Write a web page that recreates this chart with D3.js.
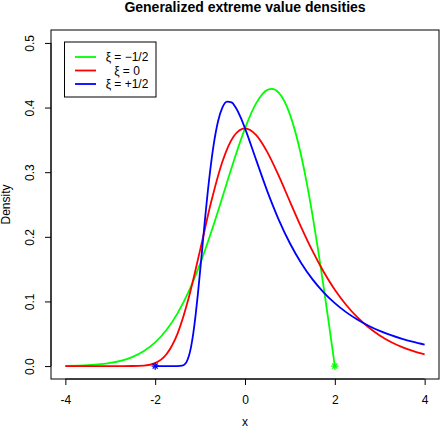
<!DOCTYPE html>
<html>
<head>
<meta charset="utf-8">
<script src="https://cdn.jsdelivr.net/npm/d3@7"></script>
<style>
  body { margin: 0; background: #fff; }
  svg { display: block; font-family: "Liberation Sans", Arial, sans-serif; }
</style>
</head>
<body>
<svg id="chart"></svg>
<script>
const width = 441, height = 428;

// values
const xTicks = [-4, -2, 0, 2, 4];
const yTicks = [0.0, 0.1, 0.2, 0.3, 0.4, 0.5];

const gumbelX = [-4, -3.5, -3, -2.75, -2.5, -2.25, -2, -1.75, -1.5, -1.25, -1, -0.75, -0.5, -0.25, 0,
  0.25, 0.5, 0.75, 1, 1.25, 1.5, 1.75, 2, 2.25, 2.5, 2.75, 3, 3.25, 3.5, 3.75, 4];
const gumbelY = [0, 0, 0, 0, 0.0001, 0.0007, 0.0046, 0.0182, 0.0507, 0.1065, 0.1794, 0.2549, 0.317, 0.3556, 0.3679,
  0.3574, 0.3307, 0.2945, 0.2546, 0.2151, 0.1785, 0.146, 0.1182, 0.0949, 0.0756, 0.06, 0.0474, 0.0373, 0.0293, 0.023, 0.018];

const negX = [-4, -3.5, -3, -2.75, -2.5, -2.25, -2, -1.75, -1.5, -1.25, -1, -0.75, -0.5, -0.25, 0,
  0.25, 0.5, 0.6, 0.75, 1, 1.25, 1.375, 1.5, 1.625, 1.75, 1.875, 2];
const negY = [0.0004, 0.0014, 0.0048, 0.0084, 0.0143, 0.0233, 0.0366, 0.0557, 0.0819, 0.1159, 0.1581, 0.2077, 0.262, 0.3174, 0.3679,
  0.4069, 0.4274, 0.4288, 0.423, 0.3894, 0.3258, 0.2834, 0.2348, 0.181, 0.1231, 0.0623, 0];

const posX = [-2, -1.75, -1.5, -1.4, -1.35, -1.3, -1.25, -1.2, -1.15, -1.1, -1.05, -1, -0.95, -0.9, -0.8, -0.7, -0.6, -0.5, -0.4, -0.3, -0.2, -0.1, 0,
  0.25, 0.5, 0.75, 1, 1.25, 1.5, 1.75, 2, 2.25, 2.5, 2.75, 3, 3.25, 3.5, 3.75, 4];
const posY = [0, 0, 0, 0.0006, 0.0023, 0.0066, 0.0155, 0.0302, 0.0514, 0.0787, 0.111, 0.1465, 0.1836, 0.2205, 0.2879, 0.3415, 0.3787, 0.4006, 0.4093, 0.4081, 0.3992, 0.3851, 0.3679,
  0.3187, 0.27, 0.2267, 0.19, 0.1596, 0.1346, 0.1142, 0.0974, 0.0835, 0.0721, 0.0625, 0.0545, 0.0478, 0.0421, 0.0373, 0.0331];

const seriesNames = ["ξ = −1/2", "ξ = 0", "ξ = +1/2"];
const seriesColors = ["#00ff00", "#ff0000", "#0000ff"];
const endpointX = [2, -2];
const endpointColors = ["#00ff00", "#0000ff"];

const plot = { left: 51, right: 439, top: 30, bottom: 379 };

const svg = d3.select("#chart")
    .attr("width", width)
    .attr("height", height);

const x = d3.scaleLinear().domain([-4.32, 4.32]).range([plot.left, plot.right]);
const y = d3.scaleLinear().domain([-0.02, 0.52]).range([plot.bottom, plot.top]);

// title
svg.append("text")
    .attr("x", 245)
    .attr("y", 12)
    .attr("text-anchor", "middle")
    .attr("font-size", 14)
    .attr("font-weight", "bold")
    .text("Generalized extreme value densities");

// axes
const xAxis = svg.append("g")
    .attr("transform", `translate(0,${plot.bottom})`)
    .call(d3.axisBottom(x).tickValues(xTicks).tickSize(6).tickPadding(10).tickFormat(d => String(d)));
xAxis.select(".domain").attr("d", `M${x(-4)},0H${x(4)}`);

const yAxis = svg.append("g")
    .attr("transform", `translate(${plot.left},0)`)
    .call(d3.axisLeft(y).tickValues(yTicks).tickSize(6).tickFormat(d3.format(".1f")));
yAxis.select(".domain").attr("d", `M0,${y(0)}V${y(0.5)}`);
yAxis.selectAll(".tick text")
    .attr("x", 0).attr("dy", 0)
    .attr("text-anchor", "middle")
    .attr("transform", "translate(-17,0) rotate(-90)");

svg.selectAll(".tick text").attr("font-size", 12).attr("fill", "#000")
    .attr("font-family", "Liberation Sans, Arial, sans-serif");
svg.selectAll(".tick line, .domain").attr("stroke", "#000");

// box
svg.append("rect")
    .attr("x", plot.left).attr("y", plot.top)
    .attr("width", plot.right - plot.left).attr("height", plot.bottom - plot.top)
    .attr("fill", "none").attr("stroke", "#000");

// axis titles
svg.append("text")
    .attr("x", 245).attr("y", 426)
    .attr("text-anchor", "middle").attr("font-size", 12)
    .text("x");
svg.append("text")
    .attr("transform", `translate(10,${(plot.top + plot.bottom) / 2}) rotate(-90)`)
    .attr("text-anchor", "middle").attr("font-size", 12)
    .text("Density");

// curves
const line = d3.line()
    .x(d => x(d[0]))
    .y(d => y(d[1]))
    .curve(d3.curveMonotoneX);

const curves = [
    { xs: negX, ys: negY, color: seriesColors[0] },
    { xs: gumbelX, ys: gumbelY, color: seriesColors[1] },
    { xs: posX, ys: posY, color: seriesColors[2] }
];

curves.forEach(c => {
    svg.append("path")
        .datum(d3.zip(c.xs, c.ys))
        .attr("d", line)
        .attr("fill", "none")
        .attr("stroke", c.color)
        .attr("stroke-width", 1.8);
});

// endpoint stars (pch = 8)
endpointX.forEach((ex, i) => {
    const g = svg.append("g")
        .attr("transform", `translate(${x(ex)},${y(0)})`)
        .attr("stroke", endpointColors[i])
        .attr("stroke-width", 1.3);
    const r = 3.6;
    g.append("line").attr("x1", -r).attr("x2", r).attr("y1", 0).attr("y2", 0);
    g.append("line").attr("x1", 0).attr("x2", 0).attr("y1", -r).attr("y2", r);
    g.append("line").attr("x1", -r * 0.7).attr("x2", r * 0.7).attr("y1", -r * 0.7).attr("y2", r * 0.7);
    g.append("line").attr("x1", -r * 0.7).attr("x2", r * 0.7).attr("y1", r * 0.7).attr("y2", -r * 0.7);
});

// legend
const legend = svg.append("g");
legend.append("rect")
    .attr("x", 64.5).attr("y", 42)
    .attr("width", 91.5).attr("height", 55)
    .attr("fill", "#fff").attr("stroke", "#000");

const rowY = [57, 70.5, 84];
seriesNames.forEach((name, i) => {
    legend.append("line")
        .attr("x1", 75).attr("x2", 96)
        .attr("y1", rowY[i]).attr("y2", rowY[i])
        .attr("stroke", seriesColors[i]).attr("stroke-width", 1.8);
    legend.append("text")
        .attr("x", 127).attr("y", rowY[i] + 4)
        .attr("text-anchor", "middle").attr("font-size", 12)
        .text(name);
});
</script>
</body>
</html>
